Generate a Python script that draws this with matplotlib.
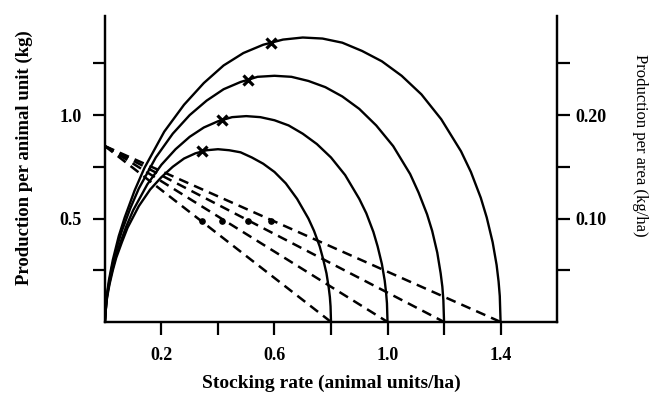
import matplotlib
matplotlib.use("Agg")
import matplotlib.pyplot as plt

plt.rcParams['font.family'] = ['Liberation Serif', 'DejaVu Serif']

# stocking rate where production per animal falls to zero
x_max = [0.8, 1.0, 1.2, 1.4]
y_start = 0.85          # production per animal unit at zero stocking

# production per area curves
xa = [0, 0.004, 0.008, 0.016, 0.028, 0.04, 0.06, 0.08, 0.12, 0.16, 0.20, 0.24, 0.28, 0.32, 0.36, 0.40,
      0.44, 0.48, 0.52, 0.56, 0.60, 0.64, 0.68, 0.72, 0.74, 0.76, 0.772, 0.784, 0.792, 0.796, 0.7984, 0.80]
ra = [0, 0.016, 0.024, 0.036, 0.050, 0.062, 0.077, 0.091, 0.112, 0.128, 0.140, 0.150, 0.158, 0.163, 0.166, 0.167,
      0.166, 0.164, 0.159, 0.153, 0.145, 0.134, 0.119, 0.100, 0.088, 0.073, 0.061, 0.047, 0.033, 0.024, 0.015, 0]

xb = [0, 0.005, 0.01, 0.02, 0.035, 0.05, 0.075, 0.1, 0.15, 0.2, 0.25, 0.3, 0.35, 0.4, 0.45, 0.5,
      0.55, 0.6, 0.65, 0.7, 0.75, 0.8, 0.85, 0.9, 0.925, 0.95, 0.965, 0.98, 0.99, 0.995, 0.998, 1.0]
rb = [0, 0.019, 0.029, 0.043, 0.060, 0.073, 0.092, 0.108, 0.133, 0.152, 0.167, 0.179, 0.188, 0.194, 0.198, 0.199,
      0.198, 0.195, 0.190, 0.182, 0.172, 0.159, 0.142, 0.119, 0.105, 0.087, 0.073, 0.056, 0.040, 0.028, 0.018, 0]

xc = [0, 0.006, 0.012, 0.024, 0.042, 0.06, 0.09, 0.12, 0.18, 0.24, 0.30, 0.36, 0.42, 0.48, 0.54, 0.60,
      0.66, 0.72, 0.78, 0.84, 0.90, 0.96, 1.02, 1.08, 1.11, 1.14, 1.158, 1.176, 1.188, 1.194, 1.1976, 1.20]
rc = [0, 0.023, 0.034, 0.052, 0.072, 0.088, 0.110, 0.129, 0.159, 0.182, 0.200, 0.214, 0.225, 0.232, 0.237, 0.238,
      0.237, 0.233, 0.227, 0.218, 0.206, 0.190, 0.170, 0.143, 0.125, 0.104, 0.088, 0.067, 0.047, 0.034, 0.021, 0]

xd = [0, 0.007, 0.014, 0.028, 0.049, 0.07, 0.105, 0.14, 0.21, 0.28, 0.35, 0.42, 0.49, 0.56, 0.63, 0.70,
      0.77, 0.84, 0.91, 0.98, 1.05, 1.12, 1.19, 1.26, 1.295, 1.33, 1.351, 1.372, 1.386, 1.393, 1.3972, 1.40]
rd = [0, 0.026, 0.040, 0.060, 0.083, 0.101, 0.127, 0.149, 0.184, 0.210, 0.231, 0.248, 0.260, 0.268, 0.273, 0.275,
      0.274, 0.270, 0.262, 0.252, 0.238, 0.220, 0.196, 0.165, 0.145, 0.120, 0.101, 0.077, 0.055, 0.039, 0.025, 0]

# optimum points (x marks on curves, dots on dashed lines)
x_opt = [0.343, 0.413, 0.505, 0.587]
r_opt = [0.165, 0.195, 0.234, 0.270]
y_dot = [0.49, 0.49, 0.49, 0.49]

fig = plt.figure(figsize=(6.64, 3.95), dpi=100)
ax = fig.add_axes([0.158, 0.185, 0.681, 0.775])
ax2 = ax.twinx()

# per animal lines
for m in x_max:
    ax.plot([0, m], [y_start, 0], color='black', lw=1.8, dashes=(4, 2.5))
ax.plot(x_opt, y_dot, 'o', color='black', ms=3.8)

# per area curves
for xs, rs in [(xa, ra), (xb, rb), (xc, rc), (xd, rd)]:
    ax2.plot(xs, rs, color='black', lw=1.7)
ax2.plot(x_opt, r_opt, 'x', color='black', ms=7.5, mew=2.3)

ax.set_xlim(0, 1.6)
ax.set_ylim(0, 1.48)
ax2.set_ylim(0, 0.296)

ax.set_xticks([0.2, 0.4, 0.6, 0.8, 1.0, 1.2, 1.4])
ax.set_xticklabels(['0.2', '', '0.6', '', '1.0', '', '1.4'])
ax.set_yticks([0.25, 0.5, 0.75, 1.0, 1.25])
ax.set_yticklabels(['', '0.5', '', '1.0', ''])
ax2.set_yticks([0.05, 0.10, 0.15, 0.20, 0.25])
ax2.set_yticklabels(['', '0.10', '', '0.20', ''])

for a in (ax, ax2):
    a.spines['top'].set_visible(False)
    for s in a.spines.values():
        s.set_linewidth(1.6)
    a.tick_params(length=9, width=1.6)
ax.tick_params(axis='y', pad=8)
ax.tick_params(axis='x', pad=9)
ax2.tick_params(axis='y', pad=4)
for lab in ax.get_xticklabels() + ax.get_yticklabels() + ax2.get_yticklabels():
    lab.set_fontweight('bold')
    lab.set_fontsize(13)

ax.set_xlabel('Stocking rate (animal units/ha)', fontsize=14, fontweight='bold', labelpad=8)
ax.set_ylabel('Production per animal unit (kg)', fontsize=13.5, fontweight='bold')
ax.yaxis.set_label_coords(-0.159, 0.536)
ax2.set_ylabel('Production per area (kg/ha)', fontsize=12, rotation=-90, va='center')
ax2.yaxis.set_label_coords(1.184, 0.578)

fig.savefig('out.png', dpi=100)
